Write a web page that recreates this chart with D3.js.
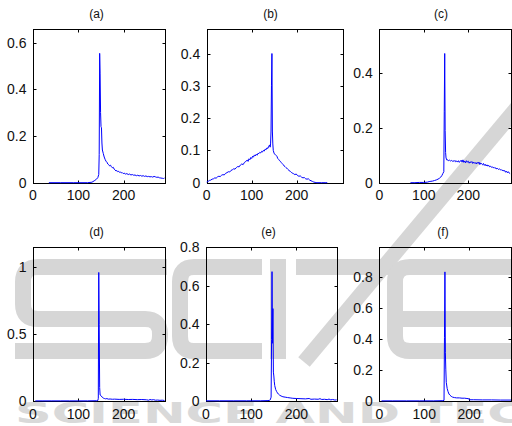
<!DOCTYPE html>
<html>
<head>
<meta charset="utf-8">
<script src="https://cdn.jsdelivr.net/npm/d3@7"></script>
<style>
  html, body { margin: 0; padding: 0; background: #fff; }
  svg { display: block; font-family: "Liberation Sans", Arial, sans-serif; }
</style>
</head>
<body>
<svg id="fig" width="512" height="426"></svg>
<script>
// ---- histogram data, one pair of arrays per panel ----
const titles = ["(a)", "(b)", "(c)", "(d)", "(e)", "(f)"];

const binsA = [35, 60, 90, 120, 130, 135, 140, 143, 145, 146, 147, 148, 149, 150, 151, 152, 153, 155, 157, 159, 161, 163, 165, 167, 169, 171, 173, 175, 177, 179, 181, 183, 185, 187, 189, 191, 193, 195, 197, 199, 201, 204, 207, 210, 213, 216, 219, 222, 225, 228, 231, 234, 237, 240, 243, 246, 249, 252, 255, 258, 261, 264, 267, 270, 273, 276, 279, 282, 285, 288, 290];
const valsA = [0, 0, 0, 0, 0.002, 0.008, 0.015, 0.022, 0.035, 0.12, 0.554, 0.466, 0.3, 0.24, 0.235, 0.17, 0.14, 0.125, 0.11, 0.1, 0.092, 0.088, 0.08, 0.077, 0.072, 0.075, 0.068, 0.064, 0.066, 0.058, 0.055, 0.05, 0.052, 0.047, 0.049, 0.044, 0.046, 0.042, 0.043, 0.039, 0.041, 0.037, 0.039, 0.035, 0.037, 0.033, 0.035, 0.032, 0.033, 0.03, 0.032, 0.029, 0.031, 0.028, 0.03, 0.027, 0.029, 0.026, 0.027, 0.025, 0.026, 0.024, 0.027, 0.025, 0.023, 0.024, 0.021, 0.02, 0.019, 0.018, 0.02];

const binsB = [0, 3, 6, 9, 12, 15, 18, 21, 24, 27, 30, 33, 36, 39, 42, 45, 48, 51, 54, 57, 60, 63, 66, 69, 72, 75, 78, 81, 84, 87, 90, 92, 94, 96, 98, 100, 102, 104, 106, 108, 110, 112, 114, 116, 118, 120, 122, 124, 126, 128, 130, 132, 134, 136, 138, 140, 141, 142, 143, 144, 145, 146, 147, 148, 149, 150, 152, 154, 156, 158, 160, 162, 164, 166, 168, 170, 172, 174, 176, 178, 180, 182, 184, 186, 188, 190, 193, 196, 199, 202, 205, 208, 211, 214, 217, 220, 223, 226, 229, 232, 235, 238, 241, 245, 255, 265, 268];
const valsB = [0.002, 0.004, 0.007, 0.008, 0.011, 0.012, 0.015, 0.014, 0.018, 0.02, 0.019, 0.023, 0.025, 0.024, 0.029, 0.031, 0.034, 0.033, 0.038, 0.04, 0.043, 0.042, 0.047, 0.05, 0.049, 0.055, 0.058, 0.056, 0.063, 0.066, 0.07, 0.066, 0.074, 0.071, 0.078, 0.075, 0.082, 0.079, 0.086, 0.083, 0.088, 0.085, 0.091, 0.09, 0.094, 0.092, 0.097, 0.095, 0.1, 0.098, 0.104, 0.102, 0.108, 0.106, 0.113, 0.117, 0.11, 0.12, 0.16, 0.3, 0.4, 0.16, 0.12, 0.1, 0.095, 0.09, 0.088, 0.085, 0.082, 0.075, 0.072, 0.068, 0.066, 0.062, 0.059, 0.056, 0.052, 0.05, 0.047, 0.045, 0.042, 0.04, 0.036, 0.035, 0.032, 0.03, 0.028, 0.025, 0.027, 0.022, 0.02, 0.021, 0.017, 0.015, 0.016, 0.012, 0.011, 0.012, 0.008, 0.006, 0.004, 0.002, 0.001, 0, 0, 0, 0];

const binsC = [70, 80, 90, 100, 108, 112, 116, 120, 124, 128, 132, 135, 138, 141, 143, 145, 146, 147, 148, 149, 150, 152, 154, 156, 158, 160, 162, 164, 166, 168, 170, 172, 174, 176, 178, 180, 182, 184, 186, 188, 190, 192, 194, 196, 198, 200, 202, 204, 206, 208, 210, 212, 214, 216, 218, 220, 222, 224, 226, 228, 230, 232, 234, 236, 238, 240, 242, 244, 246, 248, 250, 252, 254, 256, 258, 260, 262, 264, 266, 268, 270, 272, 274, 276, 278, 280, 282, 284, 286, 288, 290, 292, 294];
const valsC = [0, 0, 0.001, 0.001, 0.002, 0.004, 0.005, 0.006, 0.008, 0.01, 0.013, 0.016, 0.02, 0.027, 0.034, 0.04, 0.26, 0.47, 0.19, 0.11, 0.09, 0.082, 0.083, 0.08, 0.082, 0.079, 0.081, 0.078, 0.08, 0.077, 0.081, 0.076, 0.079, 0.075, 0.08, 0.074, 0.078, 0.082, 0.075, 0.083, 0.074, 0.079, 0.072, 0.08, 0.075, 0.078, 0.071, 0.076, 0.073, 0.077, 0.07, 0.075, 0.071, 0.073, 0.068, 0.074, 0.07, 0.075, 0.066, 0.072, 0.068, 0.065, 0.07, 0.063, 0.067, 0.061, 0.065, 0.06, 0.063, 0.058, 0.06, 0.056, 0.058, 0.054, 0.056, 0.052, 0.054, 0.05, 0.052, 0.048, 0.05, 0.047, 0.048, 0.044, 0.046, 0.042, 0.044, 0.038, 0.042, 0.036, 0.04, 0.035, 0.033];

const binsD = [5, 20, 40, 60, 80, 100, 120, 140, 143, 144, 145, 146, 147, 148, 150, 152, 154, 156, 158, 160, 163, 166, 170, 175, 180, 190, 200, 210, 220, 230, 240, 250, 255, 258, 262, 266, 270, 275, 280, 285, 290];
const valsD = [0.001, 0.001, 0.001, 0.001, 0.001, 0.001, 0.001, 0.002, 0.004, 0.02, 0.96, 0.572, 0.1, 0.045, 0.04, 0.03, 0.025, 0.02, 0.018, 0.016, 0.018, 0.014, 0.015, 0.013, 0.014, 0.012, 0.013, 0.011, 0.012, 0.01, 0.011, 0.009, 0.006, 0.011, 0.008, 0.01, 0.006, 0.007, 0.005, 0.006, 0.004];

const binsE = [0, 30, 60, 90, 120, 135, 140, 142, 144, 145, 146, 147, 148, 149, 150, 151, 152, 154, 156, 158, 160, 163, 166, 170, 175, 180, 186, 192, 200, 210, 220, 228, 232, 240, 248, 252, 256, 262, 268, 272, 276, 280, 285, 289];
const valsE = [0.001, 0.001, 0.001, 0.001, 0.001, 0.002, 0.003, 0.006, 0.02, 0.318, 0.672, 0.3, 0.48, 0.15, 0.13, 0.1, 0.08, 0.06, 0.05, 0.042, 0.036, 0.03, 0.026, 0.022, 0.02, 0.018, 0.016, 0.014, 0.013, 0.012, 0.011, 0.013, 0.009, 0.01, 0.009, 0.012, 0.008, 0.009, 0.007, 0.01, 0.006, 0.008, 0.005, 0.006];

const binsF = [5, 30, 60, 90, 120, 140, 144, 145, 146, 147, 148, 149, 151, 153, 155, 157, 160, 163, 167, 172, 178, 184, 190, 195, 199, 200, 210, 230, 250, 270, 293];
const valsF = [0.001, 0.001, 0.001, 0.001, 0.001, 0.002, 0.004, 0.41, 0.83, 0.31, 0.2, 0.12, 0.08, 0.06, 0.045, 0.038, 0.03, 0.025, 0.022, 0.02, 0.02, 0.018, 0.018, 0.016, 0.015, 0.008, 0.008, 0.007, 0.007, 0.006, 0.006];

// axis limits and tick values
const xMaxes = [290, 303, 296, 290, 289, 293];
const yMaxes = [0.657, 0.475, 0.558, 1.15, 0.8, 0.99];
const xTickValues = [0, 100, 200];
const yTicksA = [0, 0.2, 0.4, 0.6];
const yTicksB = [0, 0.1, 0.2, 0.3, 0.4];
const yTicksC = [0, 0.2, 0.4];
const yTicksD = [0, 0.5, 1];
const yTicksE = [0, 0.2, 0.4, 0.6, 0.8];
const yTicksF = [0, 0.2, 0.4, 0.6, 0.8];

const bins = [binsA, binsB, binsC, binsD, binsE, binsF];
const vals = [valsA, valsB, valsC, valsD, valsE, valsF];
const yTicks = [yTicksA, yTicksB, yTicksC, yTicksD, yTicksE, yTicksF];

// ---- layout of the 2x3 grid of axes boxes ----
const boxes = [
  { l: 33,    r: 164.5, t: 29.3, b: 182.7, tx: 96.5 },
  { l: 206.7, r: 343,   t: 29.3, b: 182.7, tx: 270.5 },
  { l: 379.3, r: 511,   t: 29.3, b: 182.7, tx: 441 },
  { l: 33,    r: 164.5, t: 247,  b: 401,   tx: 96.5 },
  { l: 206,   r: 336.7, t: 247,  b: 401,   tx: 268.5 },
  { l: 379.3, r: 511,   t: 247,  b: 401,   tx: 443 }
];

const svg = d3.select("#fig");

// ---- faint publisher watermark behind the axes ----
const wm = svg.append("g").attr("fill", "none").attr("stroke", "#d6d6d6")
  .attr("stroke-width", 16).attr("stroke-linejoin", "round");
// S
wm.append("path").attr("d", "M167,267 H38 Q23,267 23,282 V304 Q23,319 38,319 H145 Q160,319 160,334 V336 Q160,351 145,351 H15");
// C
wm.append("path").attr("d", "M262,267 H194 Q180,267 180,282 V336 Q180,351 194,351 H262");
// I
wm.append("path").attr("d", "M278,259 V359");
// T bar and slanted stem
wm.append("path").attr("d", "M296,267 H392");
wm.append("path").attr("d", "M304,362 L520,104").attr("stroke-width", 15);
// E
wm.append("path").attr("d", "M515,267 H410 Q395,267 395,282 V336 Q395,351 410,351 H515");
wm.append("path").attr("d", "M395,319 H515");
// lower line of the logo
svg.append("text")
  .attr("x", 15).attr("y", 423)
  .attr("fill", "#d9d9d9")
  .attr("font-family", "'DejaVu Sans', sans-serif")
  .attr("font-weight", "bold")
  .attr("font-size", 28)
  .attr("textLength", 790)
  .attr("lengthAdjust", "spacingAndGlyphs")
  .text("SCIENCE AND TECHNOLOGY");

// ---- axes and histogram curves ----
const fmt = d3.format("~g");
const tickLen = 3;

boxes.forEach((bx, i) => {
  const x = d3.scaleLinear().domain([0, xMaxes[i]]).range([bx.l, bx.r]);
  const y = d3.scaleLinear().domain([0, yMaxes[i]]).range([bx.b, bx.t]);
  const g = svg.append("g");

  // box
  g.append("rect")
    .attr("x", Math.round(bx.l) + 0.5).attr("y", Math.round(bx.t) + 0.5)
    .attr("width", Math.round(bx.r) - Math.round(bx.l))
    .attr("height", Math.round(bx.b) - Math.round(bx.t))
    .attr("fill", "none").attr("stroke", "#000").attr("stroke-width", 1);

  const bTop = Math.round(bx.t) + 0.5, bBot = Math.round(bx.b) + 0.5;
  const bL = Math.round(bx.l) + 0.5, bR = Math.round(bx.r) + 0.5;

  // x ticks (inward, mirrored on top)
  xTickValues.forEach(v => {
    const px = Math.round(x(v)) + 0.5;
    g.append("line").attr("x1", px).attr("x2", px).attr("y1", bBot).attr("y2", bBot - tickLen)
      .attr("stroke", "#000");
    g.append("line").attr("x1", px).attr("x2", px).attr("y1", bTop).attr("y2", bTop + tickLen)
      .attr("stroke", "#000");
    g.append("text").attr("x", x(v)).attr("y", bx.b + 17.5)
      .attr("text-anchor", "middle").attr("font-size", 14).attr("fill", "#111")
      .text(fmt(v));
  });

  // y ticks (inward, mirrored on right)
  yTicks[i].forEach(v => {
    const py = Math.round(y(v)) + 0.5;
    g.append("line").attr("x1", bL).attr("x2", bL + tickLen).attr("y1", py).attr("y2", py)
      .attr("stroke", "#000");
    g.append("line").attr("x1", bR).attr("x2", bR - tickLen).attr("y1", py).attr("y2", py)
      .attr("stroke", "#000");
    g.append("text").attr("x", bx.l - 6.5).attr("y", y(v) + 5)
      .attr("text-anchor", "end").attr("font-size", 14).attr("fill", "#111")
      .text(fmt(v));
  });

  // curve, drawn over the box so the zero run sits on the bottom edge
  const pts = bins[i].map((b, k) => [b, vals[i][k]]);
  g.append("path")
    .datum(pts)
    .attr("fill", "none")
    .attr("stroke", "#0000ff")
    .attr("stroke-width", 1)
    .attr("stroke-linejoin", "round")
    .attr("d", d3.line().x(d => x(d[0])).y(d => y(d[1])));

  // panel title
  g.append("text").attr("x", bx.tx).attr("y", bx.t - 11)
    .attr("text-anchor", "middle").attr("font-size", 12).attr("fill", "#111")
    .text(titles[i]);
});
</script>
</body>
</html>
